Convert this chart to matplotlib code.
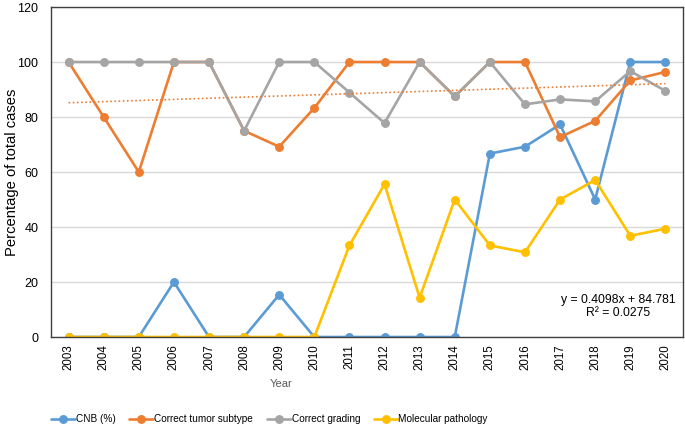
import numpy as np
import matplotlib
matplotlib.use("Agg")
import matplotlib.pyplot as plt

plt.rcParams["font.family"] = ["Liberation Sans", "DejaVu Sans"]

years = [str(y) for y in range(2003, 2021)]
cnb = [0, 0, 0, 20, 0, 0, 15.4, 0, 0, 0, 0, 0, 66.7, 69.2, 77.3, 50.0, 100, 100]
subtype = [100, 80, 60, 100, 100, 75, 69.2, 83.3, 100, 100, 100, 87.5, 100, 100, 72.7, 78.6, 93.3, 96.4]
grading = [100, 100, 100, 100, 100, 75, 100, 100, 88.9, 77.8, 100, 87.5, 100, 84.6, 86.4, 85.7, 96.7, 89.5]
molecular = [0, 0, 0, 0, 0, 0, 0, 0, 33.3, 55.6, 14.3, 50.0, 33.3, 30.8, 50.0, 57.1, 36.8, 39.4]
trend_label = "y = 0.4098x + 84.781\nR² = 0.0275"

series = [
    ("CNB (%)", cnb, "#5B9BD5"),
    ("Correct tumor subtype", subtype, "#ED7D31"),
    ("Correct grading", grading, "#A5A5A5"),
    ("Molecular pathology", molecular, "#FFC000"),
]

fig = plt.figure(figsize=(6.85, 4.28), dpi=100)
ax = fig.add_axes([0.0745, 0.2126, 0.9225, 0.771])

x = np.arange(len(years))
for label, vals, color in series:
    ax.plot(x, vals, color=color, linewidth=1.9, marker="o", markersize=5.4,
            label=label, solid_capstyle="round")

# linear trendline for correct tumor subtype
xs = np.arange(1, len(years) + 1)
slope, intercept = np.polyfit(xs, subtype, 1)
ax.plot(x, slope * xs + intercept, color="#ED7D31", linewidth=1.2,
        linestyle=(0, (1, 1.5)), zorder=5)
ax.text(15.65, 6.5, trend_label, ha="center", va="bottom", fontsize=8.8,
        color="black", linespacing=1.1)

ax.set_xlim(-0.5, len(years) - 0.5)
ax.set_ylim(0, 120)
ax.set_yticks(range(0, 121, 20))
ax.set_xticks(x)
ax.set_xticklabels(years, rotation=90)
ax.tick_params(axis="y", length=0, pad=9, labelsize=9)
ax.tick_params(axis="x", length=0, pad=5, labelsize=8.3)
ax.grid(axis="y", color="#D9D9D9", linewidth=1)
ax.set_axisbelow(True)
for s in ax.spines.values():
    s.set_color("#404040")
    s.set_linewidth(1)

fig.text(12 / 685, 1 - 172 / 428, "Percentage of total cases", rotation=90,
         ha="center", va="center", fontsize=10.6)
fig.text(281 / 685, 1 - 384 / 428, "Year", ha="center", va="center",
         fontsize=8, color="#595959")

fig.legend(loc="center left", bbox_to_anchor=(47 / 685, 1 - 419 / 428), ncol=4,
           frameon=False, fontsize=7.2, handlelength=2.4, handletextpad=0.1,
           columnspacing=1.35, borderaxespad=0)

fig.savefig("out.png", dpi=100)
